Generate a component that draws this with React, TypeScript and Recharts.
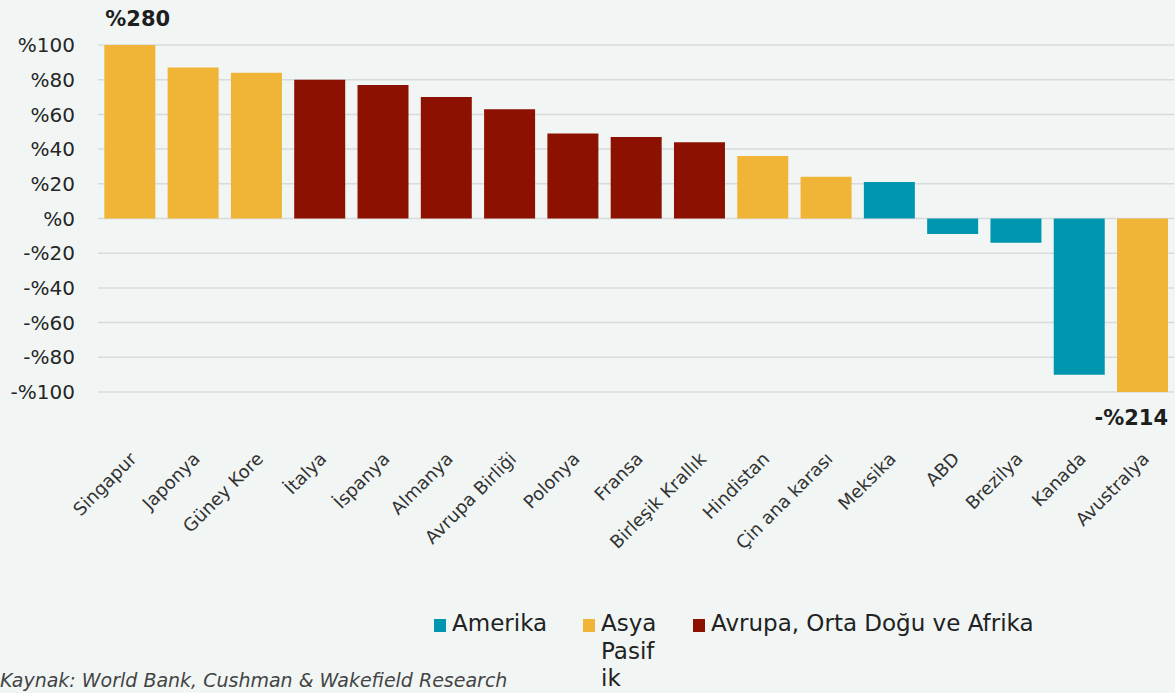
import React from "react";
import { BarChart, Bar, XAxis, YAxis, CartesianGrid, Cell, LabelList } from "recharts";

// Ülke bazında değişim (%). Eksen -%100..%100 ile sınırlı; uç değerler etiketle gösterilir.
const COUNTRIES = [
  "Singapur",
  "Japonya",
  "Güney Kore",
  "İtalya",
  "İspanya",
  "Almanya",
  "Avrupa Birliği",
  "Polonya",
  "Fransa",
  "Birleşik Krallık",
  "Hindistan",
  "Çin ana karası",
  "Meksika",
  "ABD",
  "Brezilya",
  "Kanada",
  "Avustralya",
];
const CHANGE = [280, 87, 84, 80, 77, 70, 63, 49, 47, 44, 36, 24, 21, -9, -14, -90, -214];
const REGION = [1, 1, 1, 2, 2, 2, 2, 2, 2, 2, 1, 1, 0, 0, 0, 0, 1];

const REGION_NAMES = ["Amerika", "Asya Pasifik", "Avrupa, Orta Doğu ve Afrika"];
const REGION_COLORS = ["#0096b0", "#f0b437", "#8c1100"];
const Y_TICKS = [-100, -80, -60, -40, -20, 0, 20, 40, 60, 80, 100];
const AXIS_MIN = -100;
const AXIS_MAX = 100;

const FONT = "'DejaVu Sans', sans-serif";
const BG = "#f1f6f5";

const fmt = (v: number) => (v < 0 ? `-%${-v}` : `%${v}`);

const rows = COUNTRIES.map((name, i) => ({
  name,
  value: CHANGE[i],
  shown: Math.max(AXIS_MIN, Math.min(AXIS_MAX, CHANGE[i])),
  region: REGION[i],
}));

function CountryTick({ x, y, payload }: any) {
  const ax = x + 8;
  const ay = y + 60;
  return (
    <text
      x={ax}
      y={ay}
      transform={`rotate(-45 ${ax} ${ay})`}
      textAnchor="end"
      fontSize={18}
      fontFamily={FONT}
      fill="#333"
    >
      {payload.value}
    </text>
  );
}

function OverflowLabel(props: any) {
  const { x, y, width, height, index } = props;
  const v = CHANGE[index];
  if (v <= AXIS_MAX && v >= AXIS_MIN) return null;
  const top = Math.min(y, y + height);
  const bottom = Math.max(y, y + height);
  if (v > AXIS_MAX) {
    return (
      <text x={x + 1} y={top - 19} textAnchor="start" fontSize={21} fontWeight="bold" fontFamily={FONT} fill="#1e1e1e">
        {fmt(v)}
      </text>
    );
  }
  return (
    <text x={x + width} y={bottom + 33} textAnchor="end" fontSize={21} fontWeight="bold" fontFamily={FONT} fill="#1e1e1e">
      {fmt(v)}
    </text>
  );
}

const LEGEND_LINES = [["Amerika"], ["Asya", "Pasif", "ik"], ["Avrupa, Orta Doğu ve Afrika"]];
const LEGEND_X = [434, 583, 693];

export default function App() {
  return (
    <div style={{ position: "relative", width: 1175, height: 693, background: BG, overflow: "hidden", fontFamily: FONT }}>
      <style>{`body{margin:0}`}</style>
      <BarChart
        width={1175}
        height={693}
        data={rows}
        margin={{ top: 45, right: 1, bottom: 181, left: 8 }}
        barCategoryGap="10%"
      >
        <CartesianGrid vertical={false} stroke="#d8dbdb" strokeWidth={1.5} />
        <XAxis
          dataKey="name"
          interval={0}
          axisLine={false}
          tickLine={false}
          height={120}
          tick={<CountryTick />}
        />
        <YAxis
          domain={[AXIS_MIN, AXIS_MAX]}
          ticks={Y_TICKS}
          tickFormatter={fmt}
          axisLine={false}
          tickLine={false}
          width={90}
          tickMargin={17}
          tick={{ fontSize: 20, fill: "#262626", fontFamily: FONT }}
        />
        <Bar dataKey="shown" isAnimationActive={false}>
          {rows.map((r) => (
            <Cell key={r.name} fill={REGION_COLORS[r.region]} />
          ))}
          <LabelList dataKey="value" content={<OverflowLabel />} />
        </Bar>
      </BarChart>

      {REGION_NAMES.map((name, i) => (
        <div
          key={name}
          title={name}
          style={{ position: "absolute", left: LEGEND_X[i], top: 610, display: "flex", alignItems: "flex-start" }}
        >
          <div style={{ width: 12, height: 13, background: REGION_COLORS[i], marginTop: 9, marginRight: 6 }} />
          <div style={{ fontSize: 23, lineHeight: "27.5px", color: "#222" }}>
            {LEGEND_LINES[i].map((line) => (
              <div key={line}>{line}</div>
            ))}
          </div>
        </div>
      ))}

      <div
        style={{
          position: "absolute",
          left: 0,
          top: 669,
          fontSize: 19,
          lineHeight: "22px",
          fontStyle: "italic",
          color: "#444",
          whiteSpace: "nowrap",
        }}
      >
        Kaynak: World Bank, Cushman &amp; Wakefield Research
      </div>
    </div>
  );
}
